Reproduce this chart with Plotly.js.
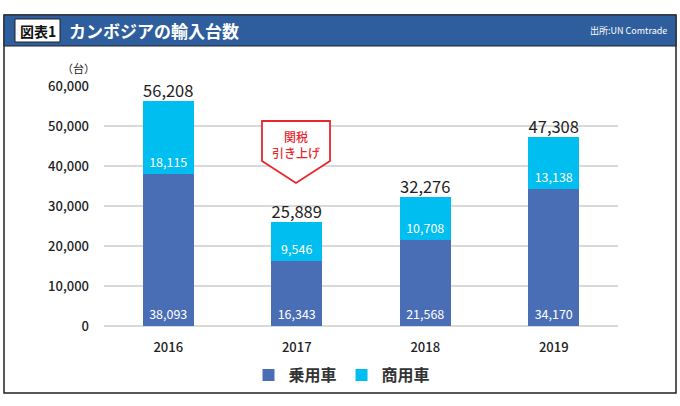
<!DOCTYPE html>
<html><head><meta charset="utf-8">
<script src="https://cdn.plot.ly/plotly-3.0.1.min.js"></script>
<style>body{margin:0;background:#fff}#c{width:680px;height:406px}</style>
</head><body><div id="c"></div>
<script>
const years = ['2016','2017','2018','2019'];
const passenger = [38093, 16343, 21568, 34170];
const commercial = [18115, 9546, 10708, 13138];
const yTicks = [0, 10000, 20000, 30000, 40000, 50000, 60000];
const yTickLabels = ['0','10,000','20,000','30,000','40,000','50,000','60,000'];
const totals = passenger.map((v,i)=>v+commercial[i]);
const fmt = v => v.toLocaleString('en-US');

const FONT = '"Noto Sans CJK JP", "Noto Sans", sans-serif';
const L=104, R=618, T=86, B=326;
const px = x => (x-L)/(R-L);
const py = y => (B-y)/(B-T);

const traces = [
  {type:'bar', name:'乗用車', x:years, y:passenger, marker:{color:'#4A6EB6'},
   text:passenger.map(fmt), textposition:'inside', insidetextanchor:'start',
   textfont:{color:'#fff', size:12.5, family:FONT}, constraintext:'none', hoverinfo:'skip'},
  {type:'bar', name:'商用車', x:years, y:commercial, marker:{color:'#00BEF0'},
   text:commercial.map(fmt), textposition:'inside', insidetextanchor:'start',
   textfont:{color:'#fff', size:12.5, family:FONT}, constraintext:'none', hoverinfo:'skip'},
  {type:'scatter', mode:'text', x:years, y:totals, text:totals.map(fmt), textposition:'top center',
   textfont:{color:'#222', size:16.5, family:FONT}, showlegend:false, hoverinfo:'skip', cliponaxis:false}
];

const arrow = 'M '+px(262)+' '+py(121)+' L '+px(330)+' '+py(121)+' L '+px(330)+' '+py(161)+' L '+px(296)+' '+py(183)+' L '+px(262)+' '+py(161)+' Z';

const layout = {
  width:680, height:406,
  margin:{l:L, r:680-R, t:T, b:406-B},
  paper_bgcolor:'#fff', plot_bgcolor:'#fff',
  barmode:'stack', bargap:0.6,
  font:{family:FONT, color:'#333'},
  showlegend:true,
  legend:{orientation:'h', x:px(342), xanchor:'center', y:py(375), yanchor:'middle',
          font:{size:16, color:'#333', family:FONT, weight:'bold'}, traceorder:'normal', itemwidth:30},
  xaxis:{type:'category', tickfont:{size:13, color:'#222', weight:500}, showgrid:false, showline:false, ticks:'', zeroline:false, fixedrange:true, ticklabelstandoff:12},
  yaxis:{range:[0,60000], tickvals:yTicks, ticktext:yTickLabels, tickfont:{size:13, color:'#222', weight:500},
         gridcolor:'#d9d9d9', gridwidth:1.3, zeroline:true, zerolinecolor:'#d9d9d9', zerolinewidth:1.5,
         showline:false, ticks:'', ticklabelstandoff:14, fixedrange:true},
  shapes:[
    {type:'rect', xref:'paper', yref:'paper', x0:px(4), x1:px(676), y0:py(15), y1:py(393), line:{color:'#222', width:1.5}, fillcolor:'rgba(0,0,0,0)', layer:'below'},
    {type:'rect', xref:'paper', yref:'paper', x0:px(4), x1:px(676), y0:py(15), y1:py(46), line:{color:'#222', width:1}, fillcolor:'#2E5E9D'},
    {type:'rect', xref:'paper', yref:'paper', x0:px(15), x1:px(60), y0:py(19), y1:py(42), line:{color:'#222', width:1}, fillcolor:'#fff'},
    {type:'path', xref:'paper', yref:'paper', path:arrow, line:{color:'#E8262E', width:1.8}, fillcolor:'#fff'}
  ],
  annotations:[
    {xref:'paper', yref:'paper', x:px(37.5), y:py(30.5), text:'<b>図表1</b>', showarrow:false, font:{size:14, color:'#111', family:FONT}, xanchor:'center', yanchor:'middle'},
    {xref:'paper', yref:'paper', x:px(67), y:py(31), text:'<b>カンボジアの輸入台数</b>', showarrow:false, font:{size:17, color:'#fff', family:FONT}, xanchor:'left', yanchor:'middle'},
    {xref:'paper', yref:'paper', x:px(669), y:py(31), text:'出所:UN Comtrade', showarrow:false, font:{size:9, color:'#fff', family:FONT}, xanchor:'right', yanchor:'middle'},
    {xref:'paper', yref:'paper', x:px(78), y:py(68), text:'（台）', showarrow:false, font:{size:11, color:'#222', family:FONT}, xanchor:'center', yanchor:'middle'},
    {xref:'paper', yref:'paper', x:px(296), y:py(144), text:'関税<br>引き上げ', showarrow:false, font:{size:12, color:'#E8262E', family:FONT, weight:500}, xanchor:'center', yanchor:'middle', align:'center'}
  ]
};
Plotly.newPlot('c', traces, layout, {displayModeBar:false, staticPlot:true});
</script></body></html>
